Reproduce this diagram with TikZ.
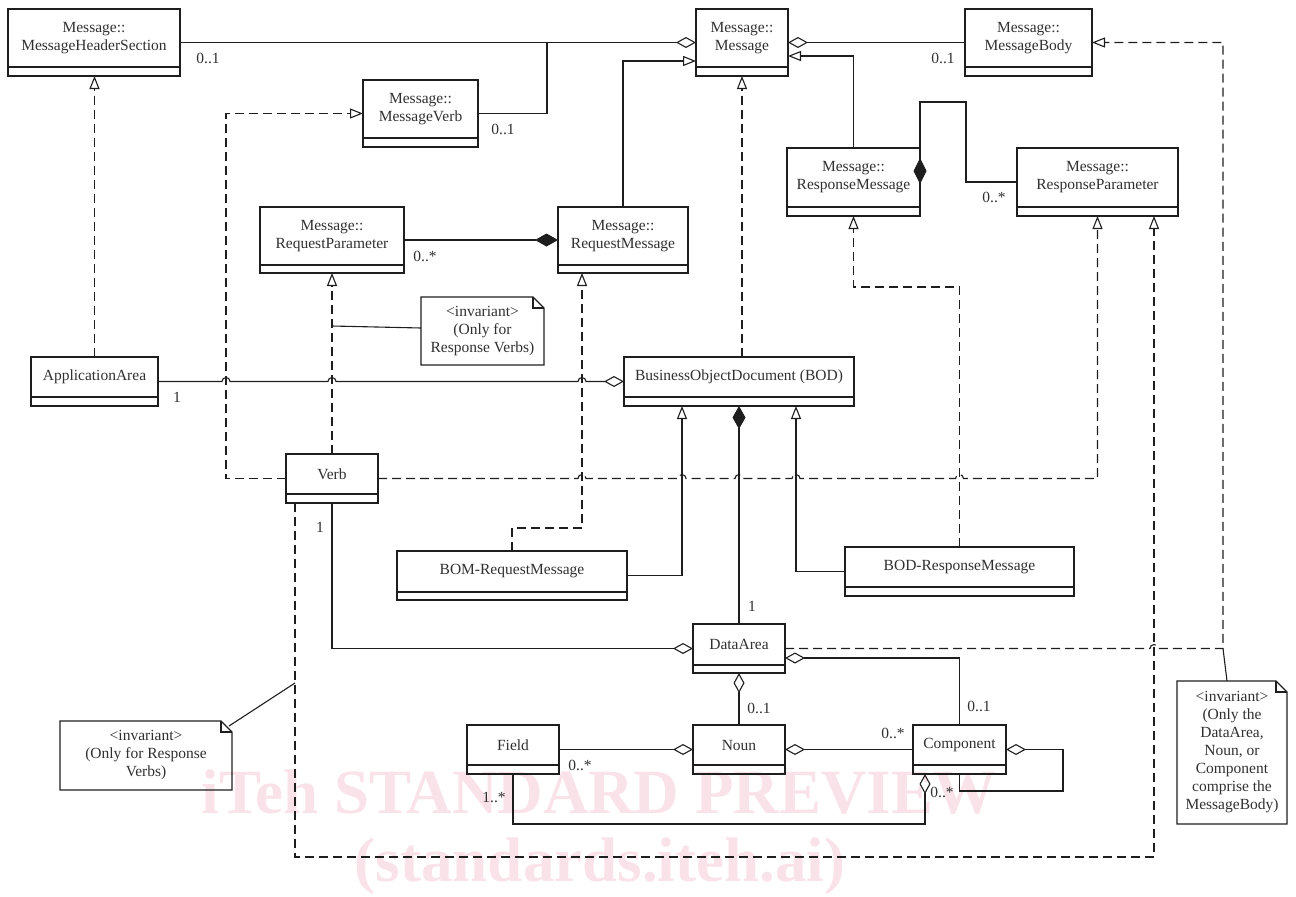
\documentclass[tikz,border=0pt]{standalone}
\usepackage{fontspec}
\setmainfont{Liberation Serif}
\usetikzlibrary{arrows.meta,calc}
\definecolor{ln}{HTML}{1E1E1E}
\definecolor{tx}{HTML}{303030}
\definecolor{wm}{RGB}{250,226,233}
\newcommand\dfont{\fontsize{15.5}{18}\selectfont}
\tikzset{
  classbox/.style={draw=ln, line width=1.3pt, inner sep=0pt, outer sep=0pt},
  sepline/.style={draw=ln, line width=2.4pt},
  classtext/.style={text=tx, font=\dfont, align=center, inner sep=0pt},
  notebox/.style={inner sep=0pt, outer sep=0pt},
  noteline/.style={draw=ln, line width=1.3pt, line join=miter},
  conn/.style={draw=ln, line width=1.1pt},
  dashedconn/.style={conn, dash pattern=on 9pt off 5pt},
  real/.style={dashedconn, -{Triangle[open,length=13pt,width=10pt,line width=1.1pt]}},
  gen/.style={conn, -{Triangle[open,length=13pt,width=10pt,line width=1.1pt]}},
  agg/.style={conn, {Diamond[open,length=20pt,width=11pt,line width=1.1pt]}-},
  aggend/.style={conn, -{Diamond[open,length=20pt,width=11pt,line width=1.1pt]}},
  comp/.style={conn, {Diamond[length=23pt,width=13pt]}-},
  compend/.style={conn, -{Diamond[length=26pt,width=13pt]}},
  mult/.style={text=tx, font=\dfont, inner sep=0pt},
  wmark/.style={text=wm, font=\fontsize{63}{65}\selectfont\bfseries, inner sep=0pt},
}
% name, x1, y1, x2, ysep, y2, text
\newcommand\umlclass[7]{%
  \pgfmathsetmacro\cw{#4-#2}\pgfmathsetmacro\ch{#6-#3}%
  \node[classbox, minimum width=\cw pt, minimum height=\ch pt, anchor=north west] (#1) at (#2,-#3) {};
  \draw[sepline] (#2,-#5) -- (#4,-#5);
  \node[classtext] (#1-t) at ({(#2+#4)/2},{-(#3+#5)/2}) {#7};
}
% name, x1, y1, x2, y2, text
\newcommand\umlnote[6]{%
  \pgfmathsetmacro\cw{#4-#2}\pgfmathsetmacro\ch{#5-#3}%
  \node[notebox, minimum width=\cw pt, minimum height=\ch pt, anchor=north west] (#1) at (#2,-#3) {};
  \draw[noteline] (#1.north west) -- ($(#1.north east)+(-11,0)$) -- ($(#1.north east)+(0,-11)$)
     -- (#1.south east) -- (#1.south west) -- cycle;
  \draw[conn] ($(#1.north east)+(-11,0)$) -- ($(#1.north east)+(-11,-11)$) -- ($(#1.north east)+(0,-11)$);
  \node[classtext] (#1-t) at (#1.center) {#6};
}
\begin{document}
\begin{tikzpicture}[x=1pt,y=1pt]
\useasboundingbox (0,0) rectangle (1296,-897);
% watermark
\node[wmark, anchor=base] (wm1) at (599,-813) {iTeh STANDARD PREVIEW};
\node[wmark, anchor=base] (wm2) at (600,-881) {(standards.iteh.ai)};

% classes
\umlclass{mhs}{8}{9}{180}{67}{76}{Message::\\MessageHeaderSection}
\umlclass{msg}{696}{9}{788}{67}{76}{Message::\\Message}
\umlclass{mbody}{965}{9}{1092}{67}{76}{Message::\\MessageBody}
\umlclass{mverb}{363}{80}{478}{138}{147}{Message::\\MessageVerb}
\umlclass{respm}{787}{148}{920}{207}{216}{Message::\\ResponseMessage}
\umlclass{respp}{1017}{148}{1178}{207}{216}{Message::\\ResponseParameter}
\umlclass{reqp}{260}{207}{404}{265}{273}{Message::\\RequestParameter}
\umlclass{reqm}{558}{207}{688}{265}{273}{Message::\\RequestMessage}
\umlclass{appa}{31}{357}{158}{397}{406}{ApplicationArea}
\umlclass{bod}{624}{357}{854}{397}{406}{BusinessObjectDocument (BOD)}
\umlclass{verb}{286}{454}{378}{494}{503}{Verb}
\umlclass{bom}{397}{551}{627}{592}{600}{BOM-RequestMessage}
\umlclass{bodr}{845}{547}{1074}{587}{596}{BOD-ResponseMessage}
\umlclass{da}{693}{624}{785}{665}{673}{DataArea}
\umlclass{field}{467}{725}{559}{765}{774}{Field}
\umlclass{noun}{693}{725}{785}{765}{774}{Noun}
\umlclass{comp}{913}{725}{1006}{765}{774}{Component}

% notes
\umlnote{note1}{421}{297}{544}{365}{<invariant>\\(Only for\\Response Verbs)}
\umlnote{note2}{60}{721}{232}{790}{<invariant>\\(Only for Response\\Verbs)}
\umlnote{note3}{1177}{681}{1287}{824}{<invariant>\\(Only the\\DataArea,\\Noun, or\\Component\\comprise the\\MessageBody)}

% helper coordinates
\coordinate (j1) at (547,-42.5);
\coordinate (n1a) at (332,-326);
\coordinate (n2a) at (295,-683);
\coordinate (n3a) at (1223,-648.5);

% top associations
\draw[agg] (msg.west) -- (msg.west -| mhs.east);
\draw[conn] (mverb.east) -| (j1);
\draw[agg] (msg.east) -- (msg.east -| mbody.west);
\draw[gen] (reqm.north) |- (msg.west |- 0,-61);
\draw[gen] (respm.north) |- (msg.east |- 0,-56);
\draw[compend] (respp.west) -- ++(-51,0) |- (920,-102) -- (respm.east |- 0,-184);
\draw[comp] (reqm.west) -- (reqp.east);

% realizations upper
\draw[real] (appa.north) -- (appa.north |- mhs.south);
\draw[real] (verb.west) -| (226,-113.5) -- (mverb.west);
\draw[real] (verb.north) -- (reqp.south);
\draw[conn] (n1a) -- (note1.west |- 0,-328);
\draw[real] (verb.east) -- (578,-478.5) arc[start angle=180,end angle=0,radius=4pt]
   -- (678,-478.5) arc[start angle=180,end angle=0,radius=4pt]
   -- (735,-478.5) arc[start angle=180,end angle=0,radius=4pt]
   -- (792,-478.5) arc[start angle=180,end angle=0,radius=4pt]
   -- (955.5,-478.5) arc[start angle=180,end angle=0,radius=4pt]
   -| (respp.south);
\draw[real] (bom.north) |- (582,-528) -- (reqm.south -| 582,0);
\draw[real] (bodr.north) |- (respm.south |- 0,-287) -- (respm.south);
\draw[real] (bod.north -| msg.south) -- (msg.south);

% BOD relations
\draw[aggend] (appa.east) -- (222,-381.5) arc[start angle=180,end angle=0,radius=4pt]
   -- (328,-381.5) arc[start angle=180,end angle=0,radius=4pt]
   -- (578,-381.5) arc[start angle=180,end angle=0,radius=4pt]
   -- (bod.west);
\draw[gen] (bom.east) -| (bod.south -| 682,0);
\draw[gen] (bodr.west) -| (bod.south -| 796,0);
\draw[comp] (bod.south) -- (da.north);

% lower part
\draw[aggend] (verb.south) |- (da.west);
\draw[real] (da.east) -- (1150,-648.5) arc[start angle=180,end angle=0,radius=4pt]
   -- (n3a) |- (mbody.east);
\draw[conn] (note3.north -| 1227,0) -- (n3a);
\draw[agg] (da.south) -- (noun.north);
\draw[agg] (da.east |- 0,-658) -| (comp.north);
\draw[aggend] (field.east) -- (noun.west);
\draw[agg] (noun.east) -- (comp.west);
\draw[agg] (comp.east) -| (1063,-791) -| (comp.south);
\draw[aggend] (field.south) |- (925,-824) -- (comp.south -| 925,0);
\draw[real] (verb.south -| 295,0) -- (295,-857) -| (respp.south -| 1154,0);
\draw[conn] ($(note2.north east)+(-3,-5)$) -- (n2a);

% multiplicities
\node[mult] (m1) at (208,-58) {0..1};
\node[mult] (m2) at (503,-129) {0..1};
\node[mult] (m3) at (943,-58) {0..1};
\node[mult] (m4) at (425,-256) {0..*};
\node[mult] (m5) at (994,-197) {0..*};
\node[mult] (m6) at (177,-397) {1};
\node[mult] (m7) at (320,-527) {1};
\node[mult] (m8) at (752,-606) {1};
\node[mult] (m9) at (759,-708) {0..1};
\node[mult] (m10) at (979,-706) {0..1};
\node[mult] (m11) at (580,-765) {0..*};
\node[mult] (m12) at (893,-733) {0..*};
\node[mult] (m13) at (494,-797) {1..*};
\node[mult] (m14) at (942,-792) {0..*};
\end{tikzpicture}
\end{document}
